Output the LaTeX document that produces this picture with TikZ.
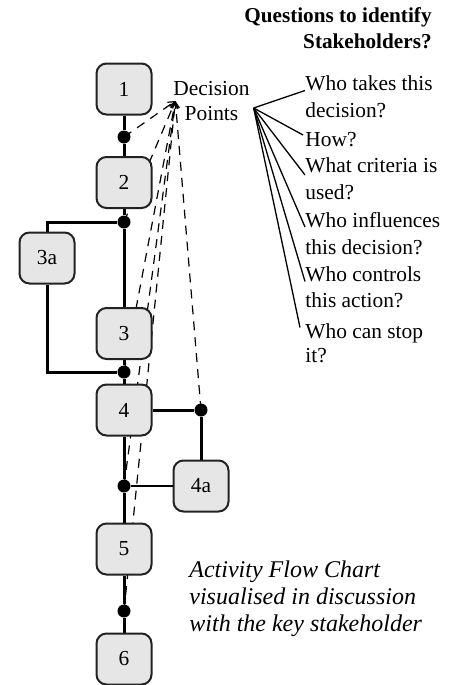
\documentclass[tikz,border=0pt]{standalone}
\usepackage{fontspec}
\setmainfont{Liberation Serif}
\usetikzlibrary{arrows.meta,backgrounds}
\definecolor{boxfill}{HTML}{E6E6E6}
\definecolor{boxline}{HTML}{222222}
\begin{document}
\begin{tikzpicture}[x=0.5pt,y=-0.5pt,
  activity/.style={draw=boxline,fill=boxfill,line width=1pt,rounded corners=5pt,
    minimum width=27.5pt,minimum height=25.5pt,inner sep=0pt,
    font=\fontsize{10.7}{12.8}\selectfont},
  junction/.style={circle,fill=black,inner sep=0pt,minimum size=6.5pt},
  flow/.style={line width=1.5pt},
  thinflow/.style={line width=1.1pt},
  lbl/.style={inner sep=0pt,font=\fontsize{10.7}{12.8}\selectfont},
  heading/.style={inner sep=0pt,font=\fontsize{10.6}{12.8}\selectfont\bfseries},
  note/.style={inner sep=0pt,font=\fontsize{12}{14}\selectfont\itshape},
  probe/.style={line width=0.6pt,dash pattern=on 4.5pt off 3.5pt,
    -{Straight Barb[length=3pt,width=3.5pt]}},
  query/.style={line width=0.65pt}
]
\useasboundingbox (0,0) rectangle (452,685);

% activities
\node[activity] (b1)  at (124,89)    {1};
\node[activity] (b2)  at (124,182.5) {2};
\node[activity] (b3a) at (47,258)    {3a};
\node[activity] (b3)  at (124,333.5) {3};
\node[activity] (b4)  at (124,410)   {4};
\node[activity] (b4a) at (201,486)   {4a};
\node[activity] (b5)  at (124,549)   {5};
\node[activity] (b6)  at (124,659)   {6};

% decision junctions
\node[junction] (d1) at (124,137) {};
\node[junction] (d2) at (124,222) {};
\node[junction] (d3) at (124,372) {};
\node[junction] (d4) at (201,410) {};
\node[junction] (d5) at (124,486) {};
\node[junction] (d6) at (124,611) {};

% flow lines
\draw[flow] (b1) -- (d1) -- (b2) -- (d2) -- (b3) -- (d3) -- (b4) -- (d5) -- (b5) -- (d6) -- (b6);
\draw[flow] (d2) -| (b3a);
\draw[flow] (b3a) |- (d3);
\draw[flow] (b4) -- (d4) -- (b4a);
\draw[thinflow] (d5) -- (b4a);

% decision points label
\node[lbl,anchor=base] (dp1) at (211.5,95.5) {Decision};
\node[lbl,anchor=base] (dp2) at (211.5,120)  {Points};
\coordinate (dpin)  at ([shift={(-9,-19)}]dp2.base west);
\coordinate (dpout) at ([shift={(15,-12)}]dp2.base east);

% links from each junction to the decision points label
\begin{pgfonlayer}{background}
  \foreach \d in {d1,d2,d3,d4,d5,d6}
    \draw[probe] (\d.center) -- (dpin);
\end{pgfonlayer}

% questions
\node[heading,anchor=base east] (h1) at (432,22) {Questions to identify};
\node[heading,anchor=base east] (h2) at (432,48) {Stakeholders?};

\node[lbl,anchor=base west] (q1a) at (305,90.5)  {Who takes this};
\node[lbl,anchor=base west] (q1b) at (305,117.5) {decision?};
\node[lbl,anchor=base west] (q2)  at (305,146)   {How?};
\node[lbl,anchor=base west] (q3a) at (305,172)   {What criteria is};
\node[lbl,anchor=base west] (q3b) at (305,199)   {used?};
\node[lbl,anchor=base west] (q4a) at (305,227)   {Who influences};
\node[lbl,anchor=base west] (q4b) at (305,254)   {this decision?};
\node[lbl,anchor=base west] (q5a) at (305,281.5) {Who controls};
\node[lbl,anchor=base west] (q5b) at (305,307.5) {this action?};
\node[lbl,anchor=base west] (q6a) at (305,338.5) {Who can stop};
\node[lbl,anchor=base west] (q6b) at (305,362)   {it?};

\draw[query] (dpout) -- (q1a.base west);
\draw[query] (dpout) -- ([shift={(-2,-11)}]q2.base west);
\draw[query] (dpout) -- ([shift={(0,3)}]q3a.base west);
\draw[query] (dpout) -- (q4a.base west);
\draw[query] (dpout) -- (q5a.base west);
\draw[query] (dpout) -- ([shift={(-5,-11)}]q6a.base west);

% caption
\node[note,anchor=base west] (c1) at (189,577) {Activity Flow Chart};
\node[note,anchor=base west] (c2) at (189,604) {visualised in discussion};
\node[note,anchor=base west] (c3) at (189,631) {with the key stakeholder};
\end{tikzpicture}
\end{document}
